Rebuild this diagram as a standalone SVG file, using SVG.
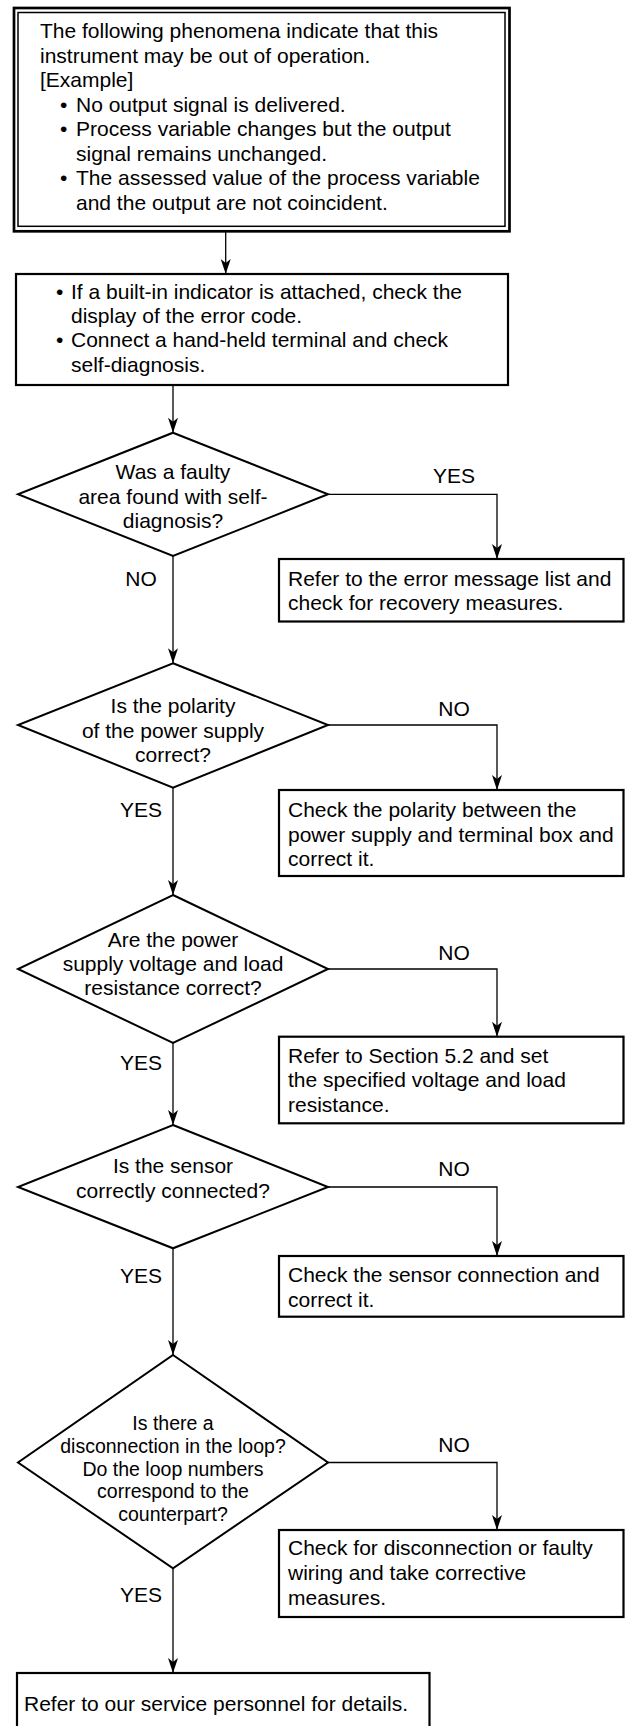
<svg xmlns="http://www.w3.org/2000/svg" width="629" height="1726" viewBox="0 0 629 1726">
<style>
text{font-family:"Liberation Sans",Arial,Helvetica,sans-serif;font-size:21px;fill:#000}
.c{text-anchor:middle}
.box{fill:#fff;stroke:#000;stroke-width:2.2}
.dia{fill:#fff;stroke:#000;stroke-width:2}
.ln{fill:none;stroke:#000;stroke-width:1.3}
.ar{marker-end:url(#ah)}
.sm{font-size:19.5px}
</style>
<defs>
<marker id="ah" viewBox="-16 -6 17 12" refX="0" refY="0" markerWidth="17" markerHeight="12" orient="auto" markerUnits="userSpaceOnUse">
<path d="M0,0 L-15,-5 L-11,0 L-15,5 Z" fill="#000"/>
</marker>
</defs>
<rect width="629" height="1726" fill="#fff"/>

<g id="connectors">
<line class="ln ar" x1="225.7" y1="232" x2="225.7" y2="274"/>
<line class="ln ar" x1="173" y1="385" x2="173" y2="432.7"/>
<line class="ln ar" x1="173" y1="556" x2="173" y2="663.3"/>
<line class="ln ar" x1="173" y1="787.7" x2="173" y2="895"/>
<line class="ln ar" x1="173" y1="1043" x2="173" y2="1125"/>
<line class="ln ar" x1="173" y1="1248.3" x2="173" y2="1355"/>
<line class="ln ar" x1="173" y1="1568.3" x2="173" y2="1673"/>
<polyline class="ln ar" points="328,494.3 497,494.3 497,559"/>
<polyline class="ln ar" points="328,725 497,725 497,790"/>
<polyline class="ln ar" points="328,969 497,969 497,1036.7"/>
<polyline class="ln ar" points="328,1187 497,1187 497,1256"/>
<polyline class="ln ar" points="328,1462.5 497,1462.5 497,1530"/>
<text class="c" x="454" y="483.3">YES</text>
<text class="c" x="141" y="586">NO</text>
<text class="c" x="454" y="715.7">NO</text>
<text class="c" x="141" y="816.7">YES</text>
<text class="c" x="454" y="960">NO</text>
<text class="c" x="141" y="1070">YES</text>
<text class="c" x="454" y="1176">NO</text>
<text class="c" x="141" y="1283.3">YES</text>
<text class="c" x="454" y="1451.7">NO</text>
<text class="c" x="141" y="1601.7">YES</text>
</g>

<g id="start">
<rect x="14" y="8" width="495.5" height="223.3" fill="#fff" stroke="#000" stroke-width="2.7"/>
<rect x="18" y="12.5" width="487" height="213.8" fill="none" stroke="#000" stroke-width="1.5"/>
<text x="40" y="38">The following phenomena indicate that this</text>
<text x="40" y="62.5">instrument may be out of operation.</text>
<text x="40" y="87">[Example]</text>
<text x="60" y="111.5">•</text><text x="76" y="111.5">No output signal is delivered.</text>
<text x="60" y="136">•</text><text x="76" y="136">Process variable changes but the output</text>
<text x="76" y="160.5">signal remains unchanged.</text>
<text x="60" y="185">•</text><text x="76" y="185">The assessed value of the process variable</text>
<text x="76" y="209.5">and the output are not coincident.</text>
</g>

<g id="check">
<rect class="box" x="16" y="274" width="492" height="111"/>
<text x="56" y="299.3">•</text><text x="71" y="299.3">If a built-in indicator is attached, check the</text>
<text x="71" y="323.3">display of the error code.</text>
<text x="56" y="347.3">•</text><text x="71" y="347.3">Connect a hand-held terminal and check</text>
<text x="71" y="371.7">self-diagnosis.</text>
</g>

<g id="d1">
<polygon class="dia" points="173,432.7 328,494.3 173,556 18,494.3"/>
<text class="c" x="173" y="479.3">Was a faulty</text>
<text class="c" x="173" y="504">area found with self-</text>
<text class="c" x="173" y="528">diagnosis?</text>
</g>
<g id="r1">
<rect class="box" x="279" y="559" width="344.5" height="62.5"/>
<text x="288" y="585.7">Refer to the error message list and</text>
<text x="288" y="610">check for recovery measures.</text>
</g>

<g id="d2">
<polygon class="dia" points="173,663.3 328,725 173,787.7 18,725"/>
<text class="c" x="173" y="712.7">Is the polarity</text>
<text class="c" x="173" y="737.7">of the power supply</text>
<text class="c" x="173" y="761.7">correct?</text>
</g>
<g id="r2">
<rect class="box" x="279" y="790" width="344.5" height="86"/>
<text x="288" y="816.7">Check the polarity between the</text>
<text x="288" y="841.7">power supply and terminal box and</text>
<text x="288" y="866">correct it.</text>
</g>

<g id="d3">
<polygon class="dia" points="173,895 328,969 173,1043 18,969"/>
<text class="c" x="173" y="946.7">Are the power</text>
<text class="c" x="173" y="971">supply voltage and load</text>
<text class="c" x="173" y="995">resistance correct?</text>
</g>
<g id="r3">
<rect class="box" x="279" y="1036.7" width="344.5" height="86.6"/>
<text x="288" y="1062.7">Refer to Section 5.2 and set</text>
<text x="288" y="1087.3">the specified voltage and load</text>
<text x="288" y="1111.7">resistance.</text>
</g>

<g id="d4">
<polygon class="dia" points="173,1125 328,1187 173,1248.3 18,1187"/>
<text class="c" x="173" y="1173.3">Is the sensor</text>
<text class="c" x="173" y="1198.3">correctly connected?</text>
</g>
<g id="r4">
<rect class="box" x="279" y="1256" width="344.5" height="60.7"/>
<text x="288" y="1281.7">Check the sensor connection and</text>
<text x="288" y="1306.7">correct it.</text>
</g>

<g id="d5">
<polygon class="dia" points="173,1355 328,1462.5 173,1568.3 18,1462.5"/>
<text class="c sm" x="173" y="1430">Is there a</text>
<text class="c sm" x="173" y="1452.7">disconnection in the loop?</text>
<text class="c sm" x="173" y="1475.7">Do the loop numbers</text>
<text class="c sm" x="173" y="1498.3">correspond to the</text>
<text class="c sm" x="173" y="1520.7">counterpart?</text>
</g>
<g id="r5">
<rect class="box" x="279" y="1530" width="344.5" height="87"/>
<text x="288" y="1555">Check for disconnection or faulty</text>
<text x="288" y="1580">wiring and take corrective</text>
<text x="288" y="1605">measures.</text>
</g>

<g id="end">
<rect class="box" x="17" y="1673" width="412.5" height="70"/>
<text x="24" y="1711">Refer to our service personnel for details.</text>
</g>
</svg>
